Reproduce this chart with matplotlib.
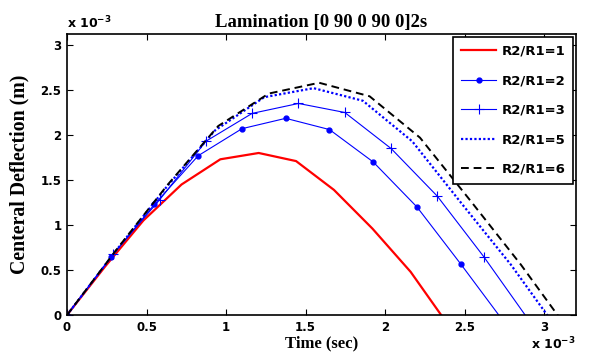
import numpy as np
import matplotlib
matplotlib.use('Agg')
from matplotlib import pyplot as plt

# time in units of 1e-3 s, deflection in units of 1e-3 m
t1 = [0, 0.24, 0.48, 0.72, 0.964, 1.205, 1.44, 1.678, 1.92, 2.16, 2.40]
d1 = [0, 0.54, 1.05, 1.45, 1.73, 1.80, 1.71, 1.39, 0.96, 0.48, -0.12]

t2 = [0, 0.275, 0.55, 0.825, 1.10, 1.375, 1.65, 1.925, 2.20, 2.475, 2.75]
d2 = [0, 0.64, 1.23, 1.77, 2.07, 2.185, 2.06, 1.70, 1.20, 0.567, -0.085]

t3 = [0, 0.291, 0.582, 0.873, 1.164, 1.455, 1.746, 2.037, 2.328, 2.619, 2.91]
d3 = [0, 0.68, 1.28, 1.93, 2.24, 2.35, 2.25, 1.85, 1.32, 0.65, -0.075]

t5 = [0, 0.31, 0.62, 0.93, 1.24, 1.55, 1.86, 2.17, 2.48, 2.79, 3.10]
d5 = [0, 0.72, 1.41, 2.05, 2.42, 2.52, 2.38, 1.93, 1.24, 0.56, -0.20]

t6 = [0, 0.317, 0.634, 0.951, 1.268, 1.585, 1.902, 2.219, 2.536, 2.853, 3.17]
d6 = [0, 0.74, 1.45, 2.10, 2.46, 2.58, 2.43, 1.97, 1.27, 0.56, -0.21]

labels = ['R2/R1=1', 'R2/R1=2', 'R2/R1=3', 'R2/R1=5', 'R2/R1=6']
xticks = [0, 0.5, 1, 1.5, 2, 2.5, 3]
yticks = [0, 0.5, 1, 1.5, 2, 2.5, 3]

fig = plt.figure(figsize=(5.94, 3.52), dpi=100)
ax = fig.add_axes([0.1128, 0.105, 0.857, 0.798])

ax.plot(t1, d1, color='red', lw=1.6, label=labels[0])
ax.plot(t2, d2, color='blue', lw=0.8, marker='.', ms=7, label=labels[1])
ax.plot(t3, d3, color='blue', lw=0.8, marker='+', ms=6.5, mew=0.8, label=labels[2])
ax.plot(t5, d5, color='blue', lw=1.6, ls=(0, (1, 1)), label=labels[3])
ax.plot(t6, d6, color='black', lw=1.4, ls=(0, (4, 2.5)), label=labels[4])

ax.set_xlim(0, 3.2)
ax.set_ylim(0, 3.12)
ax.set_xticks(xticks)
ax.set_yticks(yticks)
ax.set_xticklabels([('%g' % v) for v in xticks], fontsize=8.5, fontweight='bold')
ax.set_yticklabels([('%g' % v) for v in yticks], fontsize=8.5, fontweight='bold')
ax.tick_params(direction='in', top=True, right=True, length=4, width=0.8, pad=4)
for s in ax.spines.values():
    s.set_linewidth(1.2)

ax.set_title('Lamination [0 90 0 90 0]2s', family='Liberation Serif',
             fontweight='bold', fontsize=13.5, pad=5)
ax.set_xlabel('Time (sec)', family='Liberation Serif', fontweight='bold',
              fontsize=12, labelpad=1)
ax.set_ylabel('Centeral Deflection (m)', family='Liberation Serif',
              fontweight='bold', fontsize=14.3, labelpad=8)

ax.text(0.0, 1.01, r'x $\mathregular{10^{-3}}$', transform=ax.transAxes,
        fontsize=9, fontweight='bold', ha='left', va='bottom')
ax.text(1.0, -0.075, r'x $\mathregular{10^{-3}}$', transform=ax.transAxes,
        fontsize=9, fontweight='bold', ha='right', va='top')

leg = ax.legend(loc='upper right', prop={'weight': 'bold', 'size': 9.5},
                fancybox=False, edgecolor='black', framealpha=1,
                handlelength=2.7, labelspacing=1.25, borderaxespad=0.2,
                borderpad=0.6, handletextpad=0.4)
leg.get_frame().set_linewidth(1.2)

fig.savefig('out.png', dpi=100)
